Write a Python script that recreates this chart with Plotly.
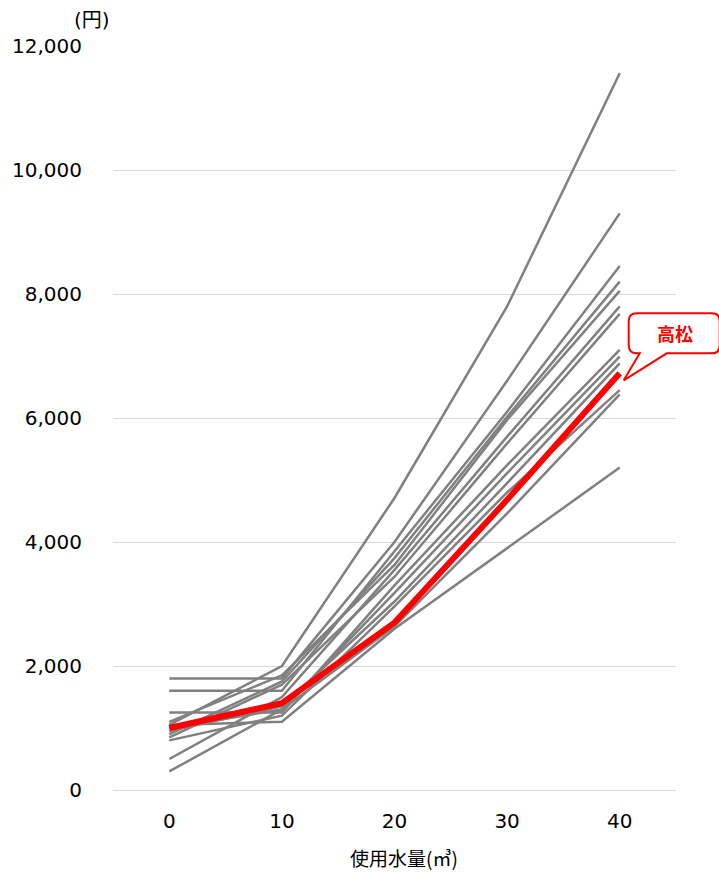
import plotly.graph_objects as go

# Usage (m3) on the x axis
usage = [0, 10, 20, 30, 40]

# Monthly water charges (yen) for comparison cities
others = [
    [1050, 2000, 4710, 7800, 11560],
    [1800, 1800, 4000, 6600, 9300],
    [1600, 1600, 3850, 6100, 8450],
    [900, 1750, 3740, 6020, 8200],
    [1100, 1850, 3630, 5970, 8050],
    [500, 1500, 3550, 5700, 7800],
    [850, 1700, 3440, 5590, 7680],
    [1250, 1250, 3300, 5240, 7100],
    [300, 1300, 3180, 5110, 6990],
    [950, 1350, 3040, 4950, 6880],
    [800, 1200, 2960, 4800, 6450],
    [1000, 1300, 2640, 4460, 6380],
    [1050, 1100, 2600, 3900, 5200],
]

# Takamatsu
takamatsu_name = "高松"
takamatsu = [1000, 1400, 2700, 4680, 6720]

y_ticks = [0, 2000, 4000, 6000, 8000, 10000, 12000]
x_ticks = [0, 10, 20, 30, 40]
x_range = [-5, 45]
y_range = [0, 12000]

FONT = "DejaVu Sans, Noto Sans CJK JP, sans-serif"
GRAY = "#808080"
RED = "#ff0000"

fig = go.Figure()
for s in others:
    fig.add_trace(go.Scatter(x=usage, y=s, mode="lines",
                             line=dict(color=GRAY, width=2.5),
                             hoverinfo="skip", showlegend=False))
fig.add_trace(go.Scatter(x=usage, y=takamatsu, mode="lines",
                         line=dict(color=RED, width=6),
                         name=takamatsu_name, showlegend=False))

# Speech-bubble callout anchored (in paper space, so it is not clipped)
# at the last Takamatsu point; path coordinates are pixel offsets.
anchor_x = (usage[-1] - x_range[0]) / (x_range[1] - x_range[0])
anchor_y = (takamatsu[-1] - y_range[0]) / (y_range[1] - y_range[0])
bubble = ("M 18,20 L 17,20 Q 9,20 9,28 L 9,52 Q 9,60 17,60 "
          "L 92,60 Q 100,60 100,52 L 100,28 Q 100,20 92,20 "
          "L 47,20 L 4,-7 L 20,20 Z")
fig.add_shape(type="path", xref="paper", yref="paper",
              xsizemode="pixel", ysizemode="pixel",
              xanchor=anchor_x, yanchor=anchor_y,
              path=bubble, line=dict(color=RED, width=2),
              fillcolor="white", layer="above")
fig.add_annotation(x=anchor_x, y=anchor_y, xref="paper", yref="paper",
                   text="<b>" + takamatsu_name + "</b>", showarrow=False,
                   xanchor="center", yanchor="middle",
                   xshift=55, yshift=40,
                   font=dict(family="Noto Sans CJK JP", size=18, color=RED))

# Unit label above the y axis
fig.add_annotation(x=0, y=1, xref="paper", yref="paper", text="(円)",
                   showarrow=False, xanchor="center", yanchor="middle",
                   xshift=-21, yshift=26,
                   font=dict(family=FONT, size=20, color="#000000"))
# x-axis title
fig.add_annotation(x=0.517, y=0, xref="paper", yref="paper",
                   text="使用水量(㎥)", showarrow=False,
                   xanchor="center", yanchor="middle", yshift=-67,
                   font=dict(family="Noto Sans CJK JP", size=19, color="#000000"))

fig.update_layout(
    width=719, height=875,
    margin=dict(l=113, r=43, t=46, b=85),
    paper_bgcolor="white", plot_bgcolor="white",
    font=dict(family=FONT, size=20, color="#000000"),
    xaxis=dict(range=x_range, tickvals=x_ticks, showgrid=False,
               zeroline=False, showline=False, ticks="",
               ticklabelstandoff=17),
    yaxis=dict(range=y_range, tickvals=y_ticks, tickformat=",",
               showgrid=True, gridcolor="#d9d9d9", gridwidth=1,
               zeroline=True, zerolinecolor="#d9d9d9", zerolinewidth=1,
               showline=False, ticks="", ticklabelstandoff=30),
)

fig.write_html("out.html")
